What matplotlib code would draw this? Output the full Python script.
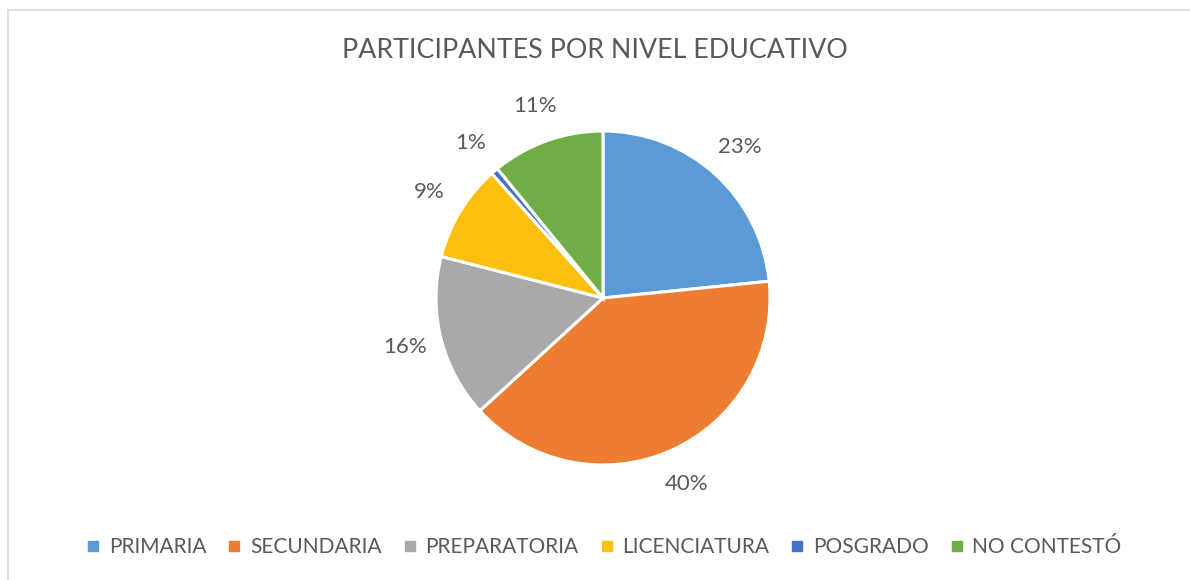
import matplotlib
matplotlib.use("Agg")
import matplotlib.pyplot as plt
from matplotlib.lines import Line2D

categories = ["PRIMARIA", "SECUNDARIA", "PREPARATORIA", "LICENCIATURA", "POSGRADO", "NO CONTESTÓ"]
values = [23.4, 39.8, 15.8, 9.4, 0.7, 10.9]
colors = ["#5B9BD5", "#ED7D31", "#A9A9AC", "#FBBF10", "#4472C4", "#70AD47"]
title = "PARTICIPANTES POR NIVEL EDUCATIVO"

txt = "#595959"
plt.rcParams['font.family'] = ['Lato', 'DejaVu Sans']

W, H = 1190, 580
fig = plt.figure(figsize=(W / 100, H / 100), dpi=100)
ax = fig.add_axes([0, 0, 1, 1])
ax.set_xlim(0, W)
ax.set_ylim(0, H)
ax.set_aspect('equal')
ax.axis('off')

wedges, texts, autotexts = ax.pie(
    values, colors=colors, startangle=90, counterclock=False,
    center=(603, H - 298), radius=167,
    autopct=lambda p: f"{p:.0f}%", pctdistance=1.22,
    wedgeprops=dict(edgecolor="white", linewidth=2.2),
    textprops=dict(color=txt, fontsize=16),
)
ax.set_xlim(0, W)
ax.set_ylim(0, H)

fig.text(0.5, 1 - 50 / H, title, ha='center', va='center', fontsize=19.3, color=txt)

handles = [Line2D([0], [0], marker='s', linestyle='none', markersize=7.5,
                  markerfacecolor=c, markeredgecolor=c) for c in colors]
fig.legend(handles, categories, loc='center', bbox_to_anchor=(0.507, 1 - 547 / H),
           ncol=6, frameon=False, fontsize=15, labelcolor=txt,
           handlelength=0.8, handletextpad=0.35, columnspacing=0.95)

# chart frame (top and left edges visible)
fig.add_artist(Line2D([8 / W, 1], [1 - 10 / H, 1 - 10 / H], color="#D9D9D9", lw=1.2))
fig.add_artist(Line2D([8 / W, 8 / W], [0, 1 - 10 / H], color="#D9D9D9", lw=1.2))

fig.savefig("out.png", dpi=100, facecolor="white")
